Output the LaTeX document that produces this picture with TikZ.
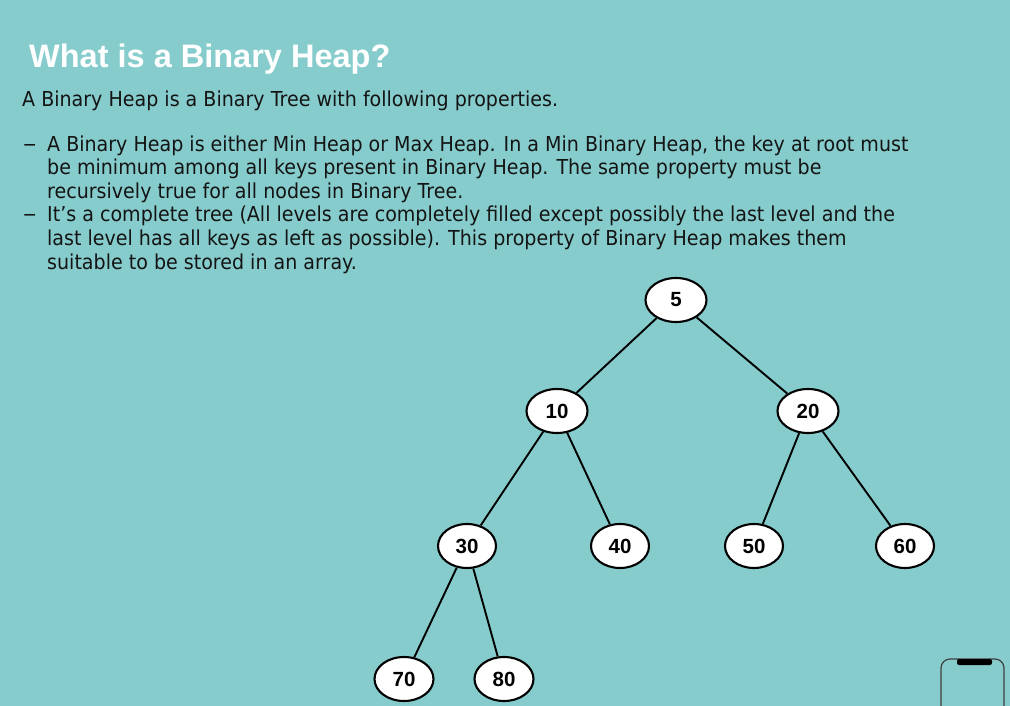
\documentclass[tikz,border=0pt]{standalone}
\usepackage{fontspec}
\setmainfont{Liberation Sans}
\newfontfamily\bodyfont[FakeStretch=0.925]{DejaVu Sans}
\newfontfamily\keyfont{Liberation Sans}
\definecolor{bgteal}{HTML}{86CCCD}
\definecolor{txt}{HTML}{141414}
\begin{document}
\begin{tikzpicture}[x=1pt,y=-1pt,
  txtline/.style={anchor=base west, inner sep=0pt, text=txt, font=\bodyfont\fontsize{20.6}{24}\selectfont},
  dashmark/.style={anchor=base west, inner sep=0pt, text=txt, font=\bodyfont\fontsize{20.6}{24}\selectfont},
  heapnode/.style={ellipse, draw=black, line width=2.1pt, fill=white, minimum width=60pt, minimum height=44pt, inner sep=0pt, font=\keyfont\bfseries\fontsize{20.5}{24}\selectfont},
  edge/.style={line width=1.9pt, draw=black}
]
\usetikzlibrary{shapes.geometric}
\fill[bgteal] (0,0) rectangle (1010,706);
\useasboundingbox (0,0) rectangle (1010,706);
\node[anchor=base west, inner sep=0pt, text=white, font=\bfseries\fontsize{32.5}{36}\selectfont] (title) at (29,68) {What is a Binary Heap?};
\node[txtline] (sub) at (22,107) {A Binary Heap is a Binary Tree with following properties.};
\node[dashmark] (d1) at (23,151.5) {\scalebox{1.4}[1.1]{–}};
\node[txtline] (l1) at (47,151.5) {A Binary Heap is either Min Heap or Max Heap. In a Min Binary Heap, the key at root must};
\node[txtline] (l2) at (47,175) {be minimum among all keys present in Binary Heap. The same property must be};
\node[txtline] (l3) at (47,198.5) {recursively true for all nodes in Binary Tree.};
\node[dashmark] (d2) at (23,222) {\scalebox{1.4}[1.1]{–}};
\node[txtline] (l4) at (47,222) {It’s a complete tree (All levels are completely filled except possibly the last level and the};
\node[txtline] (l5) at (47,245.5) {last level has all keys as left as possible). This property of Binary Heap makes them};
\node[txtline] (l6) at (47,269) {suitable to be stored in an array.};

\node[heapnode, minimum width=61pt] (n5) at (676,300) {5};
\node[heapnode, minimum width=61pt] (n10) at (557,411) {10};
\node[heapnode, minimum width=61pt] (n20) at (808,411) {20};
\node[heapnode, minimum width=58pt] (n30) at (467,546) {30};
\node[heapnode, minimum width=58pt] (n40) at (620,546) {40};
\node[heapnode, minimum width=58pt] (n50) at (754,546) {50};
\node[heapnode, minimum width=58pt] (n60) at (905,546) {60};
\node[heapnode, minimum width=59pt] (n70) at (404,679) {70};
\node[heapnode, minimum width=59pt] (n80) at (504,679) {80};

\draw[edge] (n5) -- (n10);
\draw[edge] (n5) -- (n20);
\draw[edge] (n10) -- (n30);
\draw[edge] (n10) -- (n40);
\draw[edge] (n20) -- (n50);
\draw[edge] (n20) -- (n60);
\draw[edge] (n30) -- (n70);
\draw[edge] (n30) -- (n80);

% partial phone icon at bottom right
\draw[line width=1.2pt, draw=black!75, rounded corners=9pt] (941,720) -- (941,659) -- (1004,659) -- (1004,720);
\fill[black, rounded corners=2pt] (957,659) rectangle (992,665);
\end{tikzpicture}
\end{document}
